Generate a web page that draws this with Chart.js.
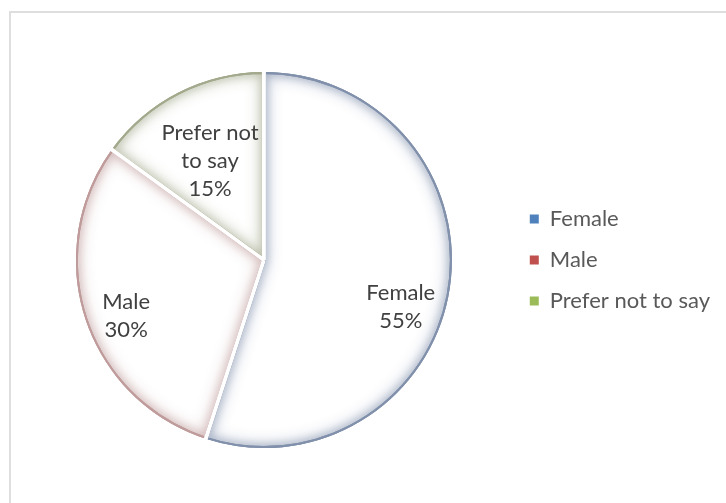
<!DOCTYPE html>
<html>
<head>
<meta charset="utf-8">
<script src="https://cdn.jsdelivr.net/npm/chart.js@4"></script>
<style>
  html, body { margin: 0; padding: 0; background: #fff; }
</style>
</head>
<body>
<canvas id="pie" width="726" height="503"></canvas>
<script>
const categories = ['Female', 'Male', 'Prefer not to say'];
const shares = [55, 30, 15];
const labelLines = [['Female'], ['Male'], ['Prefer not', 'to say']];
const legendColors = ['#4f81bd', '#c0504d', '#9bbb59'];
const edgeColors = ['#8190ab', '#bf9b9b', '#a2a98c'];

// where each data label sits: fraction of radius, and a nudge (deg) off the slice middle
const labelSpots = [
	{ r: 0.77, turn: 10 },
	{ r: 0.79, turn: -4 },
	{ r: 0.6, turn: -1.5 },
];

const frame = {
	id: 'frame',
	beforeDraw(chart) {
		const ctx = chart.ctx;
		ctx.save();
		ctx.strokeStyle = '#dedede';
		ctx.lineWidth = 2;
		ctx.strokeRect(10, 12, 760, 560);
		ctx.restore();
	},
};

// white slices get a soft tinted rim on the inside, then white gaps between slices
const shade = {
	id: 'shade',
	afterDatasetsDraw(chart) {
		const ctx = chart.ctx;
		const arcs = chart.getDatasetMeta(0).data;
		arcs.forEach((arc, i) => {
			const { x, y, startAngle, endAngle, outerRadius } = arc;
			ctx.save();
			ctx.beginPath();
			ctx.moveTo(x, y);
			ctx.arc(x, y, outerRadius, startAngle, endAngle);
			ctx.closePath();
			ctx.clip();
			ctx.strokeStyle = edgeColors[i];
			ctx.shadowColor = edgeColors[i];
			ctx.lineWidth = 4;
			ctx.shadowBlur = 16;
			ctx.stroke();
			ctx.shadowBlur = 8;
			ctx.stroke();
			ctx.restore();
		});
		ctx.save();
		ctx.strokeStyle = '#ffffff';
		ctx.lineWidth = 4;
		ctx.lineCap = 'butt';
		arcs.forEach((arc) => {
			const { x, y, startAngle, outerRadius } = arc;
			ctx.beginPath();
			ctx.moveTo(x, y);
			ctx.lineTo(x + Math.cos(startAngle) * (outerRadius + 2), y + Math.sin(startAngle) * (outerRadius + 2));
			ctx.stroke();
		});
		ctx.restore();
	},
	afterDraw(chart) {
		const ctx = chart.ctx;
		const arcs = chart.getDatasetMeta(0).data;
		const total = shares.reduce((a, b) => a + b, 0);
		ctx.save();
		ctx.font = '22px Lato';
		ctx.fillStyle = '#404040';
		ctx.textAlign = 'center';
		ctx.textBaseline = 'middle';
		arcs.forEach((arc, i) => {
			const { x, y, startAngle, endAngle, outerRadius } = arc;
			const a = (startAngle + endAngle) / 2 + (labelSpots[i].turn * Math.PI) / 180;
			const px = x + Math.cos(a) * outerRadius * labelSpots[i].r;
			const py = y + Math.sin(a) * outerRadius * labelSpots[i].r;
			const lines = labelLines[i].concat([Math.round((shares[i] / total) * 100) + '%']);
			const step = 28;
			const top = py - ((lines.length - 1) * step) / 2;
			lines.forEach((t, k) => ctx.fillText(t, px, top + k * step));
		});
		ctx.restore();
	},
};

new Chart(document.getElementById('pie'), {
	type: 'pie',
	data: {
		labels: categories,
		datasets: [
			{
				data: shares,
				backgroundColor: '#ffffff',
				borderWidth: 0,
			},
		],
	},
	options: {
		responsive: false,
		animation: false,
		devicePixelRatio: 1,
		layout: { padding: { left: 17, right: 6, top: 72, bottom: 55 } },
		plugins: {
			tooltip: { enabled: false },
			legend: {
				position: 'right',
				labels: {
					font: { family: 'Lato', size: 22 },
					color: '#595959',
					boxWidth: 9,
					boxHeight: 9,
					padding: 19,
					generateLabels: () =>
						categories.map((c, i) => ({
							text: c,
							fillStyle: legendColors[i],
							strokeStyle: legendColors[i],
							lineWidth: 0,
							fontColor: '#595959',
							hidden: false,
							index: i,
						})),
				},
			},
		},
	},
	plugins: [frame, shade],
});
</script>
</body>
</html>
